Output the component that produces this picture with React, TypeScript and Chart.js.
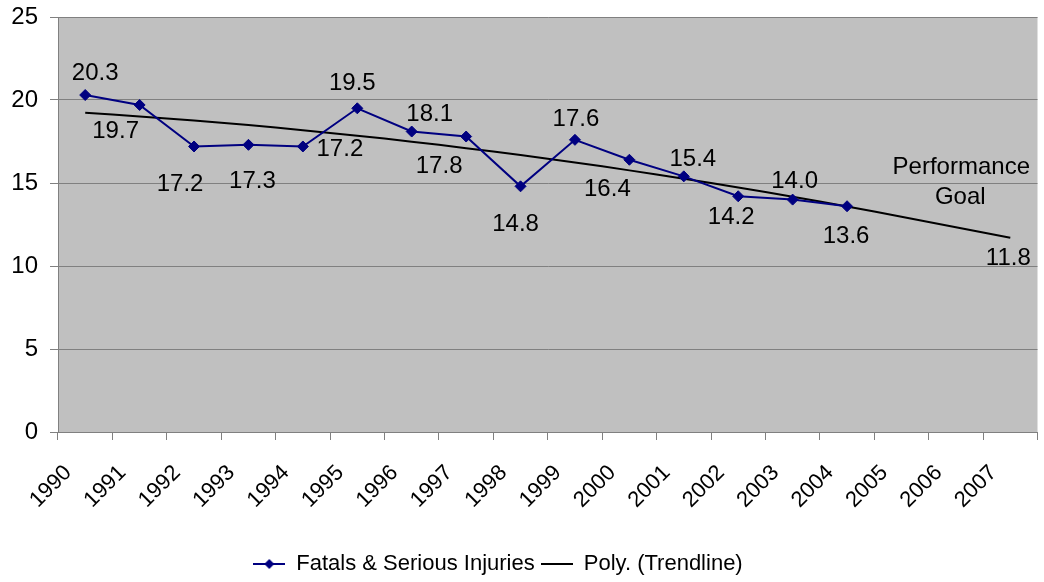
import React, { useEffect, useRef } from "react";
import { Chart, registerables } from "chart.js";

Chart.register(...registerables);

const years = [
  "1990", "1991", "1992", "1993", "1994", "1995", "1996", "1997", "1998",
  "1999", "2000", "2001", "2002", "2003", "2004", "2005", "2006", "2007",
];
const fatalsSerious: (number | null)[] = [
  20.3, 19.7, 17.2, 17.3, 17.2, 19.5, 18.1, 17.8, 14.8, 17.6, 16.4, 15.4,
  14.2, 14.0, 13.6, null, null, null,
];
const trendline = [
  19.23, 19.01, 18.76, 18.49, 18.18, 17.85, 17.49, 17.1, 16.68, 16.24, 15.76,
  15.26, 14.73, 14.17, 13.59, 12.97, 12.33, 11.7,
];
const yMin = 0;
const yMax = 25;
const yStep = 5;
const trendEndLabel = "11.8";
const goalText = ["Performance", "Goal"];
const seriesName = "Fatals & Serious Injuries";
const trendName = "Poly. (Trendline)";

// label placement (offset from the point) for each data label
const labelOffsets: [number, number][] = [
  [10, -22], [-24, 26], [-14, 38], [4, 37], [37, 3], [-5, -25], [18, -17],
  [-27, 30], [-5, 38], [1, -20], [-22, 30], [9, -17], [-7, 21], [2, -18],
  [-1, 30],
];

const FONT = 'Arial, "Liberation Sans", sans-serif';
const NAVY = "#000080";
const GRID = "#808080";

function makeMarker(color: string, diamond: boolean): HTMLCanvasElement {
  const c = document.createElement("canvas");
  c.width = 32;
  c.height = 12;
  const ctx = c.getContext("2d")!;
  ctx.strokeStyle = color;
  ctx.lineWidth = 2;
  ctx.beginPath();
  ctx.moveTo(0, 6);
  ctx.lineTo(32, 6);
  ctx.stroke();
  if (diamond) {
    ctx.fillStyle = color;
    ctx.beginPath();
    ctx.moveTo(16, 1);
    ctx.lineTo(21, 6);
    ctx.lineTo(16, 11);
    ctx.lineTo(11, 6);
    ctx.closePath();
    ctx.fill();
  }
  return c;
}

const plotBg = {
  id: "plotBg",
  beforeDraw(chart: any) {
    const { ctx, chartArea } = chart;
    ctx.save();
    ctx.fillStyle = "#C0C0C0";
    ctx.fillRect(
      chartArea.left,
      chartArea.top,
      chartArea.right - chartArea.left,
      chartArea.bottom - chartArea.top
    );
    ctx.restore();
  },
};

const legendShift = {
  id: "legendShift",
  afterLayout(chart: any) {
    const lg = chart.legend;
    if (lg) {
      lg.left = 0;
      lg.right = 996;
      lg.width = 996;
      lg.top += 3;
      lg.bottom += 3;
    }
  },
};

const dataLabels = {
  id: "dataLabels",
  afterDatasetsDraw(chart: any) {
    const { ctx } = chart;
    ctx.save();
    ctx.font = `24px ${FONT}`;
    ctx.fillStyle = "#000";
    ctx.textAlign = "center";
    ctx.textBaseline = "middle";
    const meta = chart.getDatasetMeta(0);
    meta.data.forEach((el: any, i: number) => {
      const v = fatalsSerious[i];
      if (v == null) return;
      const off = labelOffsets[i] || [0, -20];
      ctx.fillText(v.toFixed(1), el.x + off[0], el.y + off[1]);
    });
    const tMeta = chart.getDatasetMeta(1);
    const last = tMeta.data[tMeta.data.length - 1];
    if (last) {
      ctx.fillText(trendEndLabel, last.x - 2, last.y + 21);
      ctx.fillText(goalText[0], last.x - 49, last.y - 70);
      ctx.fillText(goalText[1], last.x - 50, last.y - 40);
    }
    ctx.restore();
  },
};

export default function App() {
  const ref = useRef<HTMLCanvasElement | null>(null);

  useEffect(() => {
    if (!ref.current) return;
    const seriesMarker = makeMarker(NAVY, true);
    const trendMarker = makeMarker("#000", false);
    const chart = new Chart(ref.current, {
      type: "line",
      data: {
        labels: years,
        datasets: [
          {
            label: seriesName,
            data: fatalsSerious,
            borderColor: NAVY,
            backgroundColor: NAVY,
            borderWidth: 2,
            pointStyle: "rectRot",
            pointRadius: 5.5,
            pointBackgroundColor: NAVY,
            pointBorderColor: NAVY,
            pointBorderWidth: 1,
            tension: 0,
            spanGaps: false,
          },
          {
            label: trendName,
            data: trendline,
            borderColor: "#000",
            backgroundColor: "#000",
            borderWidth: 2,
            pointRadius: 0,
            tension: 0.4,
          },
        ],
      },
      options: {
        animation: false,
        responsive: false,
        maintainAspectRatio: false,
        devicePixelRatio: 1,
        layout: { padding: { left: 0, right: 6, top: 17, bottom: 0 } },
        plugins: {
          tooltip: { enabled: false },
          legend: {
            position: "bottom",
            labels: {
              color: "#000",
              font: { size: 22, family: FONT },
              usePointStyle: true,
              pointStyleWidth: 32,
              boxHeight: 22,
              padding: 6,
              generateLabels: () => [
                {
                  text: seriesName,
                  pointStyle: seriesMarker,
                  fillStyle: NAVY,
                  strokeStyle: NAVY,
                  lineWidth: 0,
                  hidden: false,
                  datasetIndex: 0,
                  fontColor: "#000",
                },
                {
                  text: trendName,
                  pointStyle: trendMarker,
                  fillStyle: "#000",
                  strokeStyle: "#000",
                  lineWidth: 0,
                  hidden: false,
                  datasetIndex: 1,
                  fontColor: "#000",
                },
              ],
            },
          },
        },
        scales: {
          x: {
            type: "category",
            offset: true,
            grid: {
              offset: true,
              drawOnChartArea: false,
              drawTicks: true,
              tickLength: 8,
              color: GRID,
            },
            border: { color: GRID, width: 1 },
            ticks: {
              autoSkip: false,
              minRotation: 45,
              maxRotation: 45,
              padding: 20,
              labelOffset: -17,
              color: "#000",
              font: { size: 22, family: FONT },
            },
            afterFit: (s: any) => {
              s.height = 112;
              s.paddingLeft = 0;
              s.paddingRight = 0;
            },
          },
          y: {
            min: yMin,
            max: yMax,
            ticks: {
              stepSize: yStep,
              padding: 12,
              color: "#000",
              font: { size: 24, family: FONT },
            },
            grid: { color: GRID, tickLength: 8 },
            border: { color: GRID, width: 1 },
            afterFit: (s: any) => {
              s.width = 58;
              s.paddingTop = 0;
              s.paddingBottom = 0;
            },
          },
        },
      },
      plugins: [plotBg, legendShift, dataLabels],
    } as any);
    return () => chart.destroy();
  }, []);

  return (
    <div style={{ position: "absolute", left: 0, top: 0, width: 1044, height: 582, background: "#fff" }}>
      <canvas ref={ref} width={1044} height={582} style={{ display: "block" }} />
    </div>
  );
}
